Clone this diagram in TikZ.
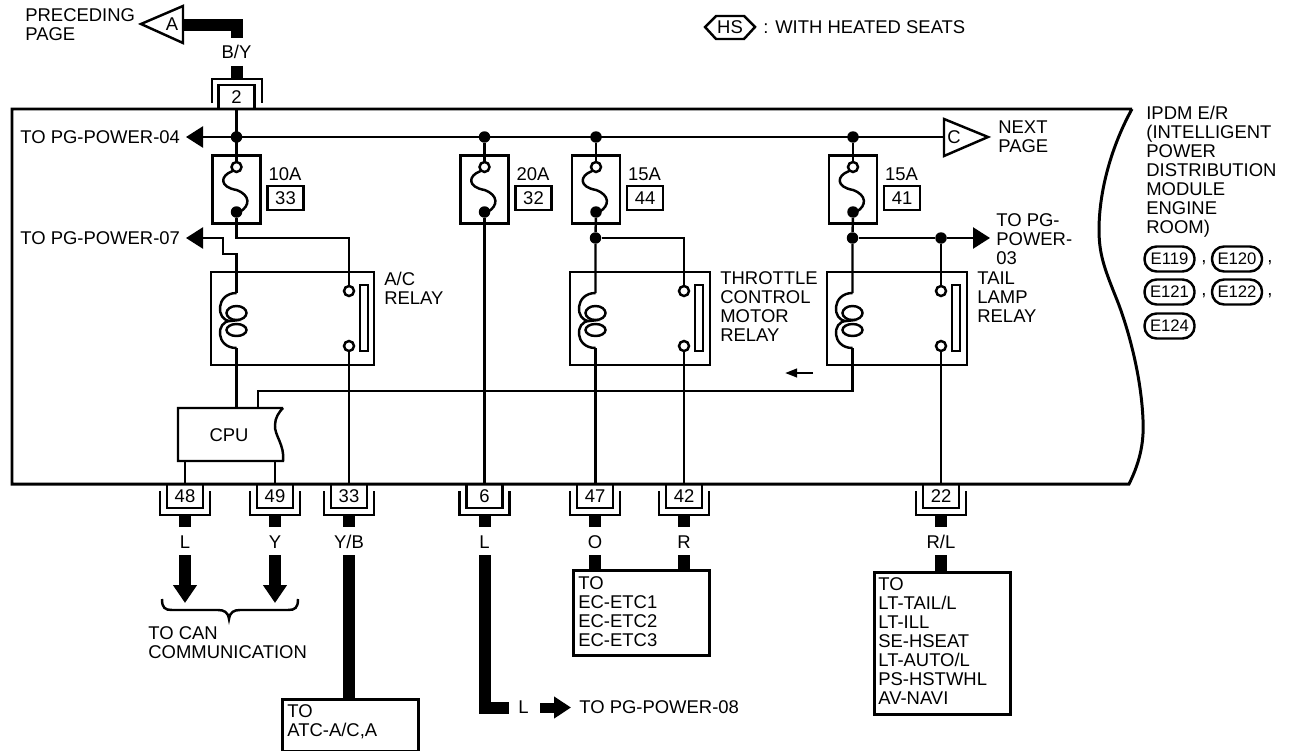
\documentclass[tikz,border=0pt]{standalone}
\usepackage{fontspec}
\setmainfont{Liberation Sans}
\usetikzlibrary{arrows.meta,positioning,calc,decorations.pathreplacing}

\tikzset{
  wire/.style={line width=1.4pt},
  heavy/.style={line width=0.24cm},
  frameline/.style={line width=1.7pt},
  lab/.style={inner sep=0pt,anchor=west,align=left},
  midlab/.style={inner sep=0pt},
  dot/.style={circle,fill=black,inner sep=0pt,minimum size=0.23cm},
  opendot/.style={circle,draw,fill=white,line width=1.4pt,inner sep=0pt,minimum size=0.2cm},
  pinbox/.style={draw,line width=1.4pt,inner sep=0pt,minimum width=0.72cm,minimum height=0.47cm},
  fusebox/.style={draw,line width=1.4pt,inner sep=0pt,minimum width=0.96cm,minimum height=1.36cm},
  destbox/.style={draw,line width=1.7pt,inner sep=0pt},
  pill/.style={draw,line width=1.4pt,rounded corners=0.24cm,inner sep=0pt,minimum width=1cm,minimum height=0.5cm,font=\fontsize{9.5}{10}\selectfont},
  tip/.style={-{Triangle[length=0.34cm,width=0.42cm]}},
}

\begin{document}
\begin{tikzpicture}[x=0.02cm,y=-0.02cm,font=\fontsize{10.5}{10.8}\selectfont]
  \useasboundingbox (0,0) rectangle (1290,750);
  % module outline
  \draw[frameline] (1132,109) -- (12,109) -- (12,484) -- (1129,484)
    .. controls (1141,460) and (1144,440) .. (1143,420)
    .. controls (1141,370) and (1125,320) .. (1117,300)
    .. controls (1105,270) and (1099,255) .. (1099,230)
    .. controls (1099,190) and (1112,145) .. (1132,109);
  \node[lab] (prev) at (25,25) {PRECEDING\\PAGE};
  \node[lab] (next) at (998,137) {NEXT\\PAGE};
  \node[lab] (hstxt) at (763,27) {: WITH HEATED SEATS};
  \node[midlab] (hsmark) at (730,27) {HS};
  \draw[wire] (705,27) -- (716,16) -- (744,16) -- (755,27) -- (744,39) -- (716,39) -- cycle;
  % page markers
  \draw[wire] (141,24) -- (183,6) -- (183,43) -- cycle;
  \node[midlab] (pageA) at (172,24) {A};
  \draw[wire] (944,119) -- (988,137) -- (944,156) -- cycle;
  \node[midlab] (pageC) at (954,137) {C};
  \coordinate (pageCin) at (944,137);
  % top connector
  \node[pinbox] (pin2) at (236.5,97) {2};
  \draw[wire] (212,103) -- (212,79) -- (262,79) -- (262,103);
  \node[midlab] (byl) at (236.5,52) {B/Y};
  \coordinate (heavyA) at (183,25);
  \coordinate (heavyB) at (236.5,25);
  \coordinate (heavyC) at (236.5,38);
  \coordinate (stubA) at (236.5,66);
  \coordinate (stubB) at (236.5,79);
  \draw[heavy] (heavyA) -- (heavyB) -- (heavyC);
  \draw[heavy] (stubA) -- (stubB);
  % fuses
  \foreach \fu/\xx/\amp in {33/236.5/10A,32/484.5/20A,44/596/15A,41/853/15A}{
    \node[fusebox] (fuse\fu) at (\xx,189.5) {};
    \node[dot] (bus\fu) at (\xx,137) {};
    \node[opendot] (fin\fu) at (\xx,167) {};
    \node[dot] (fout\fu) at (\xx,212) {};
    \draw[wire] (\xx-4,171) .. controls (\xx-17,176) and (\xx-17,187) .. (\xx,190)
      .. controls (\xx+14,195) and (\xx+14,206) .. (\xx+3,212);
    \draw[wire] (bus\fu) -- (fin\fu);
    \node[midlab] (amp\fu) at (\xx+48.5,174) {\amp};
    \node[pinbox] (fnum\fu) at (\xx+49,198) {\fu};
  }
  % relays
  \foreach \re/\xa/\xb/\xl/\xr in {ac/236.5/349/211/374,tc/595.5/684/570/710,tl/852.5/941/827/967}{
    \draw[wire] (\xl,272) rectangle (\xr,365);
    \node[opendot] (\re up) at (\xb,291) {};
    \node[opendot] (\re dn) at (\xb,346) {};
    \draw[wire] (\xb+11,285) rectangle (\xb+19,351);
    \coordinate (\re ca) at (\xa,293);
    \coordinate (\re cb) at (\xa,348);
    \draw[wire] (\re ca) .. controls (\xa-21,293) and (\xa-21,321) .. (\xa-6,321)
      .. controls (\xa-21,321) and (\xa-21,348) .. (\re cb);
    \draw[wire] (\xa+0,313) ellipse (10 and 7);
    \draw[wire] (\xa+0,330) ellipse (10 and 6);
  }
  \node[lab] (aclab) at (384,288) {A/C\\RELAY};
  \node[lab] (tclab) at (720,306.5) {THROTTLE\\CONTROL\\MOTOR\\RELAY};
  \node[lab] (tllab) at (977,297) {TAIL\\LAMP\\RELAY};
  % cpu
  \draw[wire] (283,408) -- (178,408) -- (178,461) -- (283,461)
    .. controls (285,445) and (274,435) .. (275,425) .. controls (275,418) and (279,412) .. (283,408);
  \node[midlab] (cpu) at (229,435) {CPU};
  \coordinate (cpul) at (185,461);
  \coordinate (cpur) at (275,461);
  \coordinate (cputa) at (236.5,408);
  \coordinate (cputb) at (258,408);
  % bottom connectors
  \foreach \pn/\xx/\col in {48/185/L,49/275/Y,33/349/Y\slash B,6/484.5/L,47/595/O,42/684/R,22/941/R\slash L}{
    \node[pinbox] (pin\pn) at (\xx,496) {\pn};
    \draw[wire] (\xx-25,491) -- (\xx-25,515) -- (\xx+25,515) -- (\xx+25,491);
    \node[midlab] (col\pn) at (\xx,542) {\col};
    \coordinate (stubt\pn) at (\xx,515);
    \coordinate (stubb\pn) at (\xx,527);
    \coordinate (run\pn) at (\xx,555);
    \draw[heavy] (stubt\pn) -- (stubb\pn);
  }
  % junctions and free ends
  \coordinate (to04) at (186,137);
  \coordinate (to07) at (186,238);
  \coordinate (to03) at (990,238);
  \node[dot] (jtc) at (595.5,238) {};
  \node[dot] (jtl) at (852.5,238) {};
  \node[dot] (jlamp) at (941,238) {};
  \node[lab] (pw04) at (20,137) {TO PG-POWER-04};
  \node[lab] (pw07) at (20,238) {TO PG-POWER-07};
  \node[lab] (pw03) at (996,239.5) {TO PG-\\POWER-\\03};
  % wiring
  \draw[wire] (pin2) -- (fin33);
  \draw[wire,tip] (pageCin) -- (to04);
  \draw[wire] (fout33) -- (236.5,238) -| (acup);
  \draw[wire] (accb) -- (cputa);
  \draw[wire,tip] (acca) -- (236.5,254) -- (223,254) -- (223,238) -- (to07);
  \draw[wire] (cpul) -- (pin48);
  \draw[wire] (cpur) -- (pin49);
  \draw[wire] (acdn) -- (pin33);
  \draw[wire] (fout32) -- (pin6);
  \draw[wire] (fout44) -- (jtc) -- (tcca);
  \draw[wire] (jtc) -| (tcup);
  \draw[wire] (tccb) -- (595.5,484);
  \draw[wire] (tcdn) -- (pin42);
  \draw[wire] (fout41) -- (jtl) -- (tlca);
  \draw[wire,tip] (jtl) -- (jlamp) -- (to03);
  \draw[wire] (jlamp) -- (tlup);
  \draw[wire] (tldn) -- (pin22);
  \draw[wire] (tlcb) -- (852.5,391) -- (258,391) -- (cputb);
  % direction mark
  \coordinate (flowa) at (813,373);
  \coordinate (flowb) at (785,373);
  \draw[wire,-{Triangle[length=0.24cm,width=0.17cm]}] (flowa) -- (flowb);
  % can arrows
  \foreach \pn in {48,49}{
    \coordinate (canend\pn) at ($(run\pn)+(0,48)$);
    \draw[line width=0.24cm,-{Triangle[length=0.36cm,width=0.46cm,sep=0pt]}] (run\pn) -- (canend\pn);
  }
  \draw[wire] (162,599) .. controls (162,608) and (165,610) .. (172,610) -- (218,610)
    .. controls (224,610) and (228,612) .. (229,619) .. controls (230,612) and (234,610) .. (240,610)
    -- (288,610) .. controls (295,610) and (298,608) .. (298,599);
  \node[lab] (cantxt) at (148,642.5) {TO CAN\\COMMUNICATION};
  % destination boxes
  \node[destbox,minimum width=2.72cm,minimum height=1.04cm,anchor=north west] (dest33) at (281,698) {};
  \node[lab] (dest33t) at (287,722) {TO\\ATC-A/C,A};
  \draw[heavy] (run33) -- (349,698);
  \node[destbox,minimum width=2.72cm,minimum height=1.7cm,anchor=north west] (destetc) at (572,569) {};
  \node[lab] (destetct) at (578,612) {TO\\EC-ETC1\\EC-ETC2\\EC-ETC3};
  \draw[heavy] (run47) -- (595,569);
  \draw[heavy] (run42) -- (684,569);
  \node[destbox,minimum width=2.72cm,minimum height=2.84cm,anchor=north west] (destlamp) at (873,571) {};
  \node[lab] (destlampt) at (878,641) {TO\\LT-TAIL/L\\LT-ILL\\SE-HSEAT\\LT-AUTO/L\\PS-HSTWHL\\AV-NAVI};
  \draw[heavy] (run22) -- (941,571);
  % lower run
  \coordinate (runcorner) at (484.5,707.5);
  \coordinate (runend) at (509,707.5);
  \draw[heavy] (run6) -- (runcorner) -- (runend);
  \node[lab] (runlab) at (518,707) {L};
  \coordinate (blocka) at (540,707.5);
  \coordinate (blockb) at (571,707.5);
  \draw[line width=0.2cm,-{Triangle[length=0.34cm,width=0.42cm,sep=0pt]}] (blocka) -- (blockb);
  \node[lab] (pw08) at (579,707) {TO PG-POWER-08};
  % module name
  \node[lab,anchor=north west] (ipdm) at (1146,106) {IPDM E/R\\(INTELLIGENT\\POWER\\DISTRIBUTION\\MODULE\\ENGINE\\ROOM)};
  \node[pill] (e119) at (1169.5,259) {E119};
  \node[pill] (e120) at (1237,259) {E120};
  \node[pill] (e121) at (1169.5,292) {E121};
  \node[pill] (e122) at (1237,292) {E122};
  \node[pill] (e124) at (1169.5,326) {E124};
  \node[midlab] (comma1) at (1204,263) {,};
  \node[midlab] (comma2) at (1270,263) {,};
  \node[midlab] (comma3) at (1204,296) {,};
  \node[midlab] (comma4) at (1270,296) {,};
\end{tikzpicture}
\end{document}
